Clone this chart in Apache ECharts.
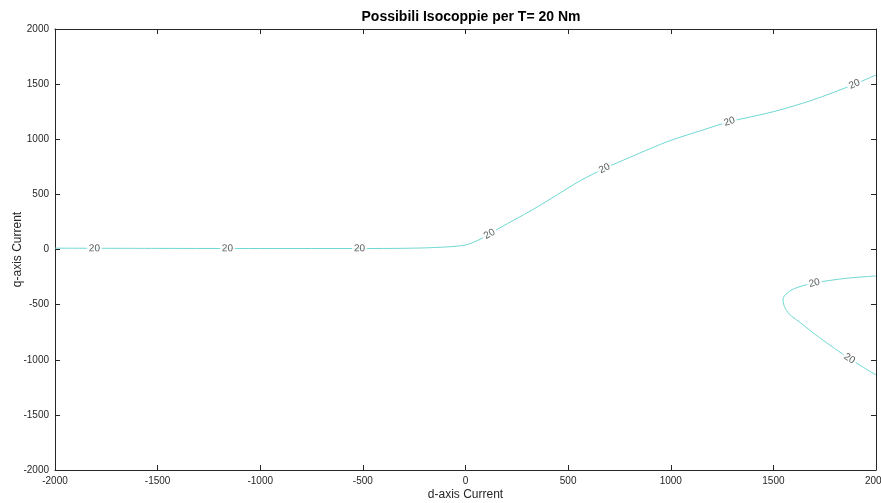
<!DOCTYPE html>
<html>
<head>
<meta charset="utf-8">
<script src="https://cdn.jsdelivr.net/npm/echarts@6/dist/echarts.min.js"></script>
<style>html,body{margin:0;padding:0;background:#fff}#c{width:881px;height:503px}</style>
</head>
<body>
<div id="c"></div>
<script>
// Upper isotorque branch (d, q)
const upperD = [-2000, -1500, -1000, -500, -300, -150, 0, 83, 166, 326, 450, 560, 677, 800, 900, 1000, 1150, 1286, 1500, 1691, 1886, 2000];
const upperQ = [12, 10, 9, 9, 11, 18, 41, 104, 195, 360, 500, 625, 735, 835, 915, 990, 1080, 1159, 1250, 1356, 1492, 1583];
// Lower isotorque branch (d, q)
const lowerD = [2000, 1850, 1709, 1620, 1568, 1547, 1553, 1577, 1625, 1725, 1871, 2000];
const lowerQ = [-240, -262, -301, -342, -393, -450, -515, -585, -655, -800, -990, -1138];
// Contour label positions
const labelD = [-1808, -1160, -516, 117, 677, 1286, 1895, 1700, 1871];
const labelQ = [10, 9, 9, 140, 735, 1159, 1498, -304, -990];
const labelBranch = [0, 0, 0, 0, 0, 0, 0, 1, 1];
const levelText = '20';
const xTicks = [-2000, 2000, 500];
const yTicks = [-2000, 2000, 500];

const FONT = 'Liberation Sans, Arial, Helvetica, sans-serif';
const AX = '#262626';
const LINE = '#6fd8d2';

const chart = echarts.init(document.getElementById('c'), null, {renderer: 'canvas'});
const upperPts = upperD.map((d, i) => [d, upperQ[i]]);
const lowerPts = lowerD.map((d, i) => [d, lowerQ[i]]);

function axisCommon(showLabel) {
  return {
    type: 'value', min: xTicks[0], max: xTicks[1], interval: xTicks[2],
    axisLine: {show: true, onZero: false, lineStyle: {color: AX, width: 1}},
    axisTick: {show: true, inside: true, length: 5, lineStyle: {color: AX}},
    axisLabel: {show: showLabel, fontSize: 10, color: AX, fontFamily: FONT, margin: 6,
      formatter: v => String(v)},
    splitLine: {show: false},
    nameMoveOverlap: false
  };
}

function labelData(rots) {
  return labelD.map((d, i) => ({
    value: [d, labelQ[i]],
    label: {rotate: rots ? rots[i] : 0}
  }));
}

const option = {
  animation: false,
  backgroundColor: '#fff',
  title: {
    text: 'Possibili Isocoppie per T= 20 Nm',
    left: 466, top: 5, textAlign: 'center',
    textStyle: {fontSize: 14, fontWeight: 'bold', color: '#000', fontFamily: FONT}
  },
  grid: {left: 55, right: 5, top: 29, bottom: 33, containLabel: false, outerBoundsMode: 'none'},
  xAxis: [
    Object.assign(axisCommon(true), {position: 'bottom', name: 'd-axis Current', nameLocation: 'middle', nameGap: 19,
      nameTextStyle: {fontSize: 12, color: AX, fontFamily: FONT}}),
    Object.assign(axisCommon(false), {position: 'top'})
  ],
  yAxis: [
    Object.assign(axisCommon(true), {min: yTicks[0], max: yTicks[1], interval: yTicks[2], position: 'left',
      name: 'q-axis Current', nameLocation: 'middle', nameGap: 31,
      nameTextStyle: {fontSize: 12, color: AX, fontFamily: FONT}}),
    Object.assign(axisCommon(false), {min: yTicks[0], max: yTicks[1], interval: yTicks[2], position: 'right'})
  ],
  series: [
    {type: 'line', data: upperPts, showSymbol: false, smooth: 0.3, lineStyle: {color: LINE, width: 1}, z: 2},
    {type: 'line', data: lowerPts, showSymbol: false, smooth: 0.3, lineStyle: {color: LINE, width: 1}, z: 2},
    {type: 'scatter', data: labelData(null), symbolSize: 1, itemStyle: {color: 'rgba(255,255,255,0)'}, z: 5,
      label: {show: true, position: 'inside', formatter: levelText, fontSize: 10, color: '#333',
        fontFamily: FONT, backgroundColor: '#fff', padding: [0, 2]}}
  ]
};
chart.setOption(option);

// compute label rotation along the curve
function angleAt(pts, d, q) {
  let best = 0, bd = Infinity;
  const b = chart.convertToPixel({gridIndex: 0}, [d, q]);
  for (let i = 0; i < pts.length - 1; i++) {
    const mx = (pts[i][0] + pts[i + 1][0]) / 2, my = (pts[i][1] + pts[i + 1][1]) / 2;
    const a = chart.convertToPixel({gridIndex: 0}, [mx, my]);
    const dist = Math.hypot(a[0] - b[0], a[1] - b[1]);
    if (dist < bd) { bd = dist; best = i; }
  }
  const p1 = chart.convertToPixel({gridIndex: 0}, pts[best]);
  const p2 = chart.convertToPixel({gridIndex: 0}, pts[best + 1]);
  let ang = Math.atan2(-(p2[1] - p1[1]), p2[0] - p1[0]) * 180 / Math.PI;
  if (ang > 90) ang -= 180;
  if (ang < -90) ang += 180;
  return ang;
}
const rots = labelD.map((d, i) => angleAt(labelBranch[i] === 0 ? upperPts : lowerPts, d, labelQ[i]));
chart.setOption({series: [{}, {}, {data: labelData(rots)}]});
</script>
</body>
</html>
